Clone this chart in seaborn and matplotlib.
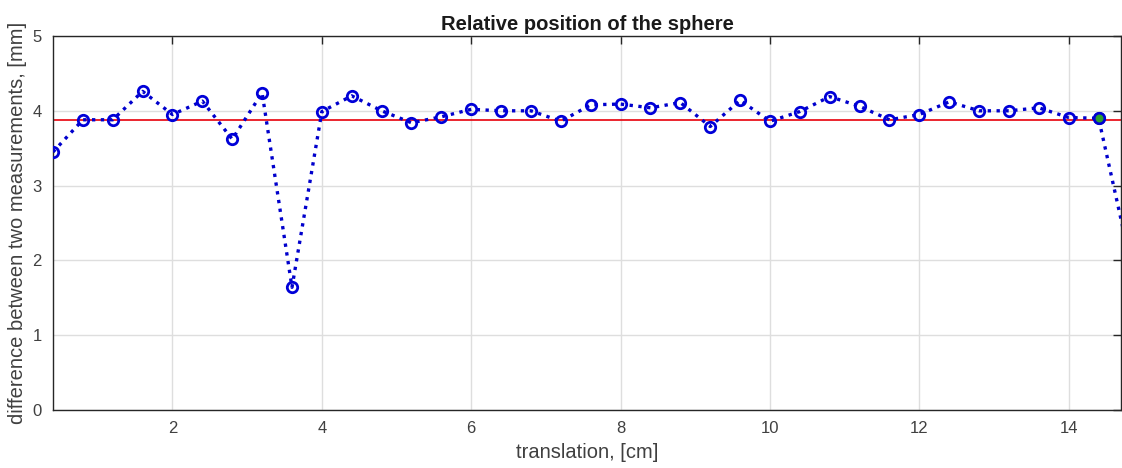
import matplotlib
matplotlib.use("Agg")
import matplotlib.pyplot as plt
import seaborn as sns
import pandas as pd

translation_cm = [0.4, 0.8, 1.2, 1.6, 2.0, 2.4, 2.8, 3.2, 3.6, 4.0, 4.4, 4.8, 5.2, 5.6,
                  6.0, 6.4, 6.8, 7.2, 7.6, 8.0, 8.4, 8.8, 9.2, 9.6, 10.0, 10.4, 10.8,
                  11.2, 11.6, 12.0, 12.4, 12.8, 13.2, 13.6, 14.0, 14.4, 14.8]
difference_mm = [3.45, 3.88, 3.88, 4.26, 3.95, 4.13, 3.62, 4.24, 1.64, 3.99, 4.20, 4.00,
                 3.84, 3.92, 4.02, 4.00, 4.00, 3.86, 4.08, 4.09, 4.04, 4.11, 3.79, 4.14,
                 3.86, 3.99, 4.19, 4.06, 3.88, 3.95, 4.12, 4.00, 4.00, 4.04, 3.91, 3.90,
                 2.10]
mean_level = 3.88
highlight_x = [14.4]
highlight_y = [3.90]
x_ticks = [2, 4, 6, 8, 10, 12, 14]
y_ticks = [0, 1, 2, 3, 4, 5]

sns.set_theme(style="white")
plt.rcParams['font.family'] = ['Liberation Sans', 'DejaVu Sans']

df = pd.DataFrame({"x": translation_cm, "y": difference_mm})

fig = plt.figure(figsize=(11.22, 4.68), dpi=100)
ax = fig.add_axes([53/1122, 58/468, 1068/1122, 374/468])

ax.grid(True, color="#dedede", linewidth=1.0, zorder=0)
ax.set_axisbelow(True)

ax.axhline(mean_level, color="#e8000b", linewidth=1.2, zorder=2)

sns.lineplot(data=df, x="x", y="y", ax=ax, color="#0000cc", linestyle=":",
             linewidth=2.4, marker="o", markersize=7.5, markerfacecolor="none",
             markeredgecolor="#0000d8", markeredgewidth=2.0, zorder=3)
ax.plot(highlight_x, highlight_y, linestyle="none", marker="o", markersize=7.5,
        markerfacecolor="#2ca02c", markeredgecolor="#0000d0", markeredgewidth=1.8, zorder=4)

ax.set_xlim(0.4, 14.7)
ax.set_ylim(0, 5)
ax.set_xticks(x_ticks)
ax.set_yticks(y_ticks)
ax.tick_params(direction="in", length=6, width=1, colors="#262626", labelsize=12,
               top=True, right=True, labelcolor="#404040", pad=8)
for s in ax.spines.values():
    s.set_visible(True)
    s.set_color("#262626")
    s.set_linewidth(1.0)

ax.set_xlabel("translation, [cm]", fontsize=14.5, color="#404040", labelpad=5)
ax.set_ylabel("difference between two measurements, [mm]", fontsize=14.5, color="#404040", labelpad=4)
ax.set_title("Relative position of the sphere", fontsize=14.5, fontweight="bold", color="#1a1a1a", pad=4)

fig.savefig("out.png", dpi=100)
